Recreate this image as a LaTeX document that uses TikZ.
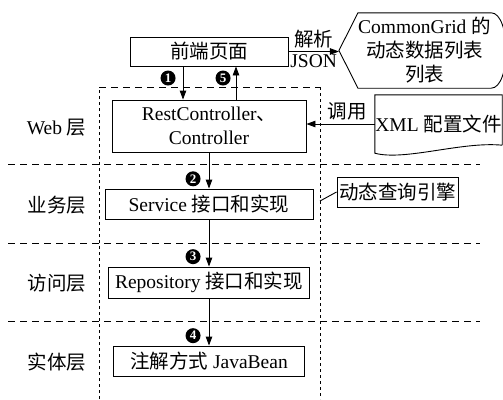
\documentclass[tikz,border=0pt]{standalone}
\usepackage{fontspec}
\setmainfont{Liberation Serif}
\newfontfamily\cjk{Noto Sans CJK SC}
\newcommand{\zh}[1]{{\cjk #1}}
\usetikzlibrary{arrows.meta,positioning,calc}
\tikzset{
  % 基础盒子
  box/.style={
    draw,
    line width=0.9pt,
    inner sep=0pt,
    minimum height=30pt,
    align=center
  },
  % 箭头样式
  arr/.style={-{Triangle[length=9pt,width=6.5pt]}, line width=0.9pt},
  % 编号圆点
  numdot/.style={
    circle, fill=black, text=white,
    inner sep=0pt, minimum size=15pt,
    font=\fontsize{13}{13}\selectfont\bfseries
  },
  % 分层虚线
  layerline/.style={dash pattern=on 7pt off 5pt, line width=0.8pt},
  % 框架点划线
  frameline/.style={dash pattern=on 3pt off 3pt, line width=0.8pt},
  % 层名
  layername/.style={anchor=east},
}

\begin{document}
\begin{tikzpicture}[x=1pt, y=-1pt, font=\fontsize{19.5}{24}\selectfont]
  \useasboundingbox (0,0) rectangle (503,399);

  % Layers
  \foreach \y in {164,243,321} {
    \draw[layerline] (8,\y) -- (480,\y);
  }
  \foreach \y/\t in {128/Web \zh{层}, 205/\zh{业务层}, 283/\zh{访问层}, 362/\zh{实体层}} {
    \node[layername] (layer\y) at (90,\y) {\t};
  }

  % Server frame
  \coordinate (fnw) at (99,87);
  \coordinate (fse) at (320,399);
  \draw[layerline] (fnw) -- (fnw -| fse);
  \draw[frameline] (fnw |- fse) -- (fnw);
  \draw[frameline] (fnw -| fse) -- (fse);

  % Boxes
  \node[box, minimum width=158pt, minimum height=29pt] (front) at (209,51.5) {\zh{前端页面}};
  \node[box, minimum width=194pt, minimum height=52pt] (rest) at (209,126) {RestController\zh{、}\\Controller};
  \node[box, minimum width=208pt] (service) at (209,204) {Service \zh{接口和实现}};
  \node[box, minimum width=201pt, minimum height=31pt] (repo) at (209,282.5) {Repository \zh{接口和实现}};
  \node[box, minimum width=191pt] (bean) at (209,361) {\zh{注解方式} JavaBean};
  \node[box, minimum width=121pt] (engine) at (397.5,192) {\zh{动态查询引擎}};

  % CommonGrid display
  \node[minimum width=125pt, minimum height=75pt, inner sep=0pt, align=center] (grid) at (424.5,50.5)
    {CommonGrid \zh{的}\\\zh{动态数据列表}\\\zh{列表}};
  \coordinate (gtip) at ([xshift=-19pt]grid.west);
  \draw[line width=0.9pt] (gtip) -- (grid.north west) -- (grid.north east)
    .. controls +(20,0) and +(20,0) .. (grid.south east) -- (grid.south west) -- cycle;

  % XML document
  \node[minimum width=127pt, minimum height=58pt, inner sep=0pt] (xml) at (438.5,124) {XML \zh{配置文件}};
  \draw[line width=0.9pt] ([yshift=8pt]xml.south east) -- (xml.north east) -- (xml.north west) -- (xml.south west)
    .. controls +(30,8) and +(-40,-4) .. ([yshift=8pt]xml.south east);

  % Flow
  \draw[arr] ([xshift=-26pt]front.south) -- ([xshift=-26pt]front.south |- rest.north)
    node[numdot, pos=0.35, left=7pt] (n1) {1};
  \draw[arr] ([xshift=27pt]front.south |- rest.north) -- ([xshift=27pt]front.south)
    node[numdot, pos=0.65, left=5pt] (n5) {5};
  \draw[arr] (rest.south) -- (service.north) node[numdot, pos=0.73, left=8pt] (n2) {2};
  \draw[arr] (service.south) -- (repo.north) node[numdot, pos=0.79, left=8pt] (n3) {3};
  \draw[arr] (repo.south) -- (bean.north) node[numdot, pos=0.79, left=8pt] (n4) {4};

  % Side links
  \draw[arr] (front.east) -- (front.east -| gtip)
    node[midway, above] (parse) {\zh{解析}}
    node[midway, below=-1pt] (json) {JSON};
  \draw[arr] (xml.west) -- (xml.west -| rest.east) node[pos=0.4, above] (call) {\zh{调用}};
  \coordinate (tap) at (320,201);
  \draw[line width=0.9pt] (engine.west) -- (tap);
\end{tikzpicture}
\end{document}
